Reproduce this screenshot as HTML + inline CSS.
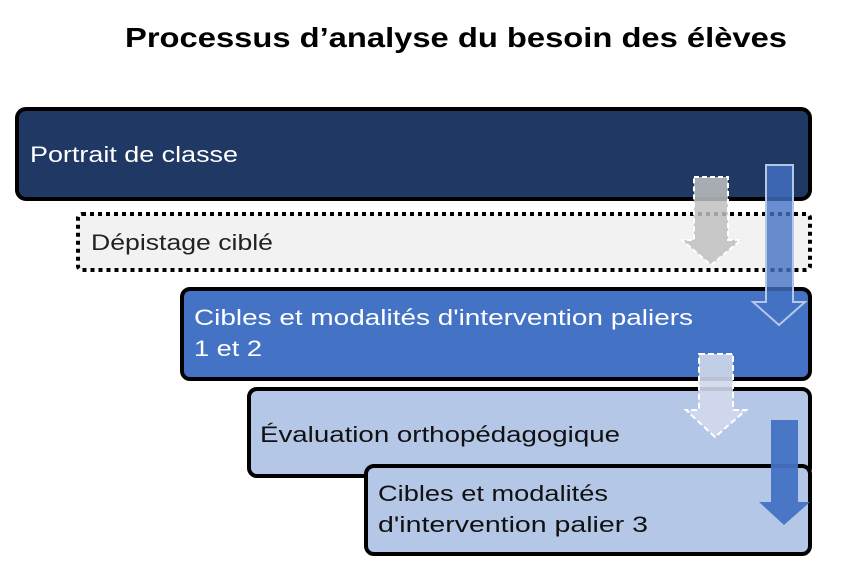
<!DOCTYPE html>
<html><head><meta charset="utf-8"><style>
html,body{margin:0;padding:0;background:#fff;}
svg{display:block;}
text{font-family:"Liberation Sans",sans-serif;}
</style></head><body>
<svg width="861" height="587" viewBox="0 0 861 587" xmlns="http://www.w3.org/2000/svg">
<text x="125" y="47" font-size="28" font-weight="bold" fill="#000" textLength="662" lengthAdjust="spacingAndGlyphs">Processus d’analyse du besoin des élèves</text>

<rect x="17" y="109" width="793" height="90" rx="9" fill="#1f3864" stroke="#000" stroke-width="4"/>
<text x="30" y="162" font-size="22" fill="#fff" textLength="208" lengthAdjust="spacingAndGlyphs">Portrait de classe</text>

<rect x="78" y="214" width="732" height="56" rx="4" fill="#f2f2f2" stroke="#000" stroke-width="4" stroke-dasharray="4 4"/>
<text x="91" y="250" font-size="22" fill="#222" textLength="182" lengthAdjust="spacingAndGlyphs">Dépistage ciblé</text>

<rect x="182" y="289" width="628" height="90" rx="8" fill="#4472c4" stroke="#000" stroke-width="4"/>
<text x="194" y="325" font-size="22" fill="#fff" textLength="499" lengthAdjust="spacingAndGlyphs">Cibles et modalités d'intervention paliers</text>
<text x="194" y="356" font-size="22" fill="#fff" textLength="68" lengthAdjust="spacingAndGlyphs">1 et 2</text>

<rect x="249" y="389" width="561" height="87" rx="8" fill="#b4c7e7" stroke="#000" stroke-width="4"/>
<text x="260" y="442" font-size="22" fill="#111" textLength="360" lengthAdjust="spacingAndGlyphs">Évaluation orthopédagogique</text>

<rect x="366" y="466" width="444" height="88" rx="8" fill="#b4c7e7" stroke="#000" stroke-width="4"/>
<text x="378" y="501" font-size="22" fill="#111" textLength="230" lengthAdjust="spacingAndGlyphs">Cibles et modalités</text>
<text x="378" y="532" font-size="22" fill="#111" textLength="270" lengthAdjust="spacingAndGlyphs">d'intervention palier 3</text>

<!-- grey dashed arrow -->
<polygon points="694,177 728,177 728,240 741,240 711,265 682,240 694,240" fill="#bfbfbf" fill-opacity="0.85" stroke="#fff" stroke-width="2" stroke-dasharray="5 3"/>
<!-- blue outlined arrow -->
<polygon points="766,165 793,165 793,302 805,302 779,325 753,302 766,302" fill="#4472c4" fill-opacity="0.8" stroke="#b4c7e7" stroke-width="2"/>
<!-- light dashed arrow -->
<polygon points="699,354 733,354 733,410 746,410 715,437 686,410 699,410" fill="#d0d8ec" fill-opacity="0.9" stroke="#fff" stroke-width="2" stroke-dasharray="6 3"/>
<!-- solid blue arrow -->
<polygon points="771,420 798,420 798,502 810,502 784,525 759,502 771,502" fill="#4472c4" fill-opacity="0.95"/>
</svg>
</body></html>
